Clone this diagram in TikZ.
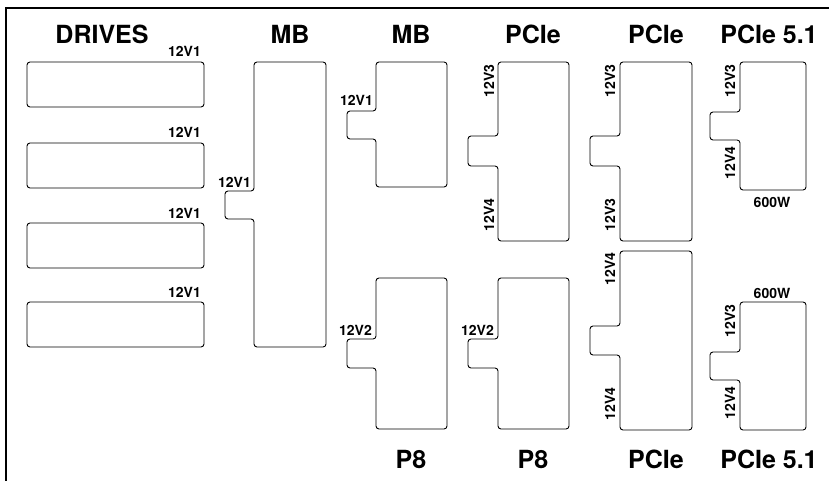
\documentclass[tikz,border=0pt]{standalone}
\usepackage{fontspec}
\setmainfont{TeX Gyre Heros}
\usetikzlibrary{calc}

\tikzset{
  conn/.style={draw, line width=0.9pt, rounded corners=3pt},
  title/.style={font=\fontsize{25}{25}\selectfont\bfseries, inner sep=0pt},
  rail/.style={font=\fontsize{14}{14}\selectfont\bfseries, inner sep=0pt},
}
% box with a tab on its left side
\newcommand\tabconn[7]{%
  \draw[conn] (#1,#2) -- (#3,#2) -- (#3,#4) -- (#1,#4) -- (#1,#7)
    -- (#5,#7) -- (#5,#6) -- (#1,#6) -- cycle;}

\begin{document}
\begin{tikzpicture}[x=1pt,y=-1pt]
        \useasboundingbox (0,0) rectangle (829,481);
        \draw[line width=2pt] (6,8) rectangle (900,560);

        \node[title] (tdrv) at (102,34) {DRIVES};
        \node[title] (tmb1) at (290,34) {MB};
        \node[title] (tmb2) at (411,34) {MB};
        \node[title] (tpc1) at (533,34) {PCIe};
        \node[title] (tpc2) at (656,34) {PCIe};
        \node[title] (tpf1) at (769,34) {PCIe 5.1};
        \node[title] (tp81) at (411,459) {P8};
        \node[title] (tp82) at (533,459) {P8};
        \node[title] (tpc3) at (656,459) {PCIe};
        \node[title] (tpf2) at (769,459) {PCIe 5.1};

        \foreach \y/\n in {62/1,143/2,223/3,302/4} {
          \draw[conn] (27,\y) rectangle (204,\y+45);
          \node[rail,anchor=base east] (drv\n) at (201,\y-5) {12V1};
        }

        \tabconn{254}{62}{326}{347}{225}{191}{219}
        \node[rail,anchor=base east] (mb1) at (251,187) {12V1};

        \tabconn{376}{62}{447}{187}{347}{111}{139}
        \node[rail,anchor=base east] (mb2) at (373,106) {12V1};

        \tabconn{376}{278}{447}{429}{347}{339}{368}
        \node[rail,anchor=base east] (p81) at (372,335) {12V2};

        \tabconn{498}{278}{569}{429}{468}{339}{368}
        \node[rail,anchor=base east] (p82) at (494,335) {12V2};

        \tabconn{498}{62}{569}{241}{468}{136}{166}
        \node[rail,rotate=90] (pc1a) at (489,81) {12V3};
        \node[rail,rotate=90] (pc1b) at (489,215) {12V4};

        \tabconn{620}{62}{692}{241}{590}{136}{166}
        \node[rail,rotate=90] (pc2a) at (610,81) {12V3};
        \node[rail,rotate=90] (pc2b) at (610,215) {12V3};

        \tabconn{620}{251}{692}{430}{590}{326}{355}
        \node[rail,rotate=90] (pc3a) at (610,269) {12V4};
        \node[rail,rotate=90] (pc3b) at (610,404) {12V4};

        \tabconn{740}{62}{806}{190}{710}{112}{140}
        \node[rail,rotate=90] (pf1a) at (730,81) {12V3};
        \node[rail,rotate=90] (pf1b) at (730,163) {12V4};
        \node[rail] (pf1w) at (772,202) {600W};

        \tabconn{740}{302}{806}{430}{710}{352}{380}
        \node[rail,rotate=90] (pf2a) at (730,321) {12V3};
        \node[rail,rotate=90] (pf2b) at (730,403) {12V4};
        \node[rail] (pf2w) at (772,293) {600W};
      \end{tikzpicture}
\end{document}
